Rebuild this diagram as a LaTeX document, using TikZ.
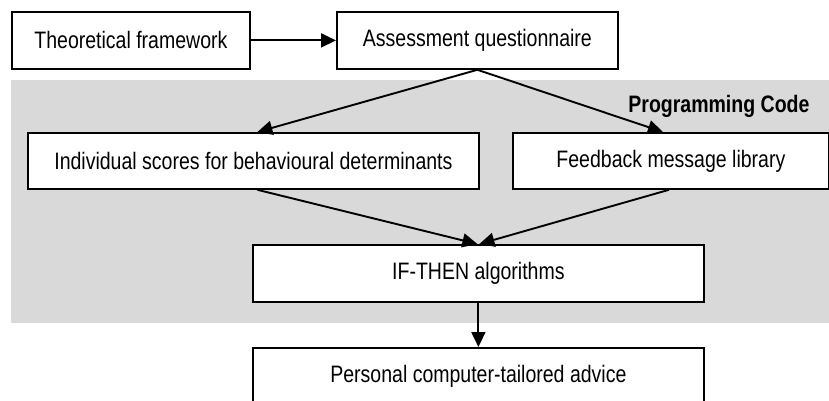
\documentclass[tikz,border=0pt]{standalone}
\usepackage{fontspec}
\setmainfont{Liberation Sans}[FakeStretch=0.82]
\usetikzlibrary{arrows.meta}
\definecolor{panel}{HTML}{D9D9D9}
\begin{document}
\begin{tikzpicture}[x=1pt,y=-1pt,
  box/.style={draw=black, fill=white, line width=1.8pt, inner sep=0pt,
    anchor=north west, font=\fontsize{23.8}{28}\selectfont},
  flow/.style={line width=1.9pt, -{Triangle[length=15pt,width=14pt]}}]
\clip (0,0) rectangle (829,401);
% shaded panel for the programmed part
\fill[panel] (11,80) rectangle (829,323);
\node[anchor=base east, font=\fontsize{23.8}{28}\selectfont\bfseries] (code) at (813,113) {Programming Code};
% boxes
\node[box, minimum width=238pt, minimum height=57pt] (tf) at (11,11) {Theoretical framework};
\node[box, minimum width=281pt, minimum height=57pt] (aq) at (336,11) {Assessment questionnaire};
\node[box, minimum width=451pt, minimum height=56pt] (is) at (27,132) {Individual scores for behavioural determinants};
\node[box, minimum width=316pt, minimum height=56pt] (fb) at (512,132) {Feedback message library};
\node[box, minimum width=451pt, minimum height=57pt] (it) at (252,244) {IF-THEN algorithms};
\node[box, minimum width=451pt, minimum height=57pt] (pa) at (252,347) {Personal computer-tailored advice};
% connectors
\draw[flow] (tf.east) -- (aq.west);
\draw[flow] (aq.south) -- ([xshift=4pt]is.north);
\draw[flow] (aq.south) -- ([xshift=-8pt]fb.north);
\draw[flow] ([xshift=4pt]is.south) -- ([xshift=-1pt]it.north);
\draw[flow] ([xshift=-2pt]fb.south) -- ([xshift=1pt]it.north);
\draw[flow] (it.south) -- (pa.north);
\end{tikzpicture}
\end{document}
